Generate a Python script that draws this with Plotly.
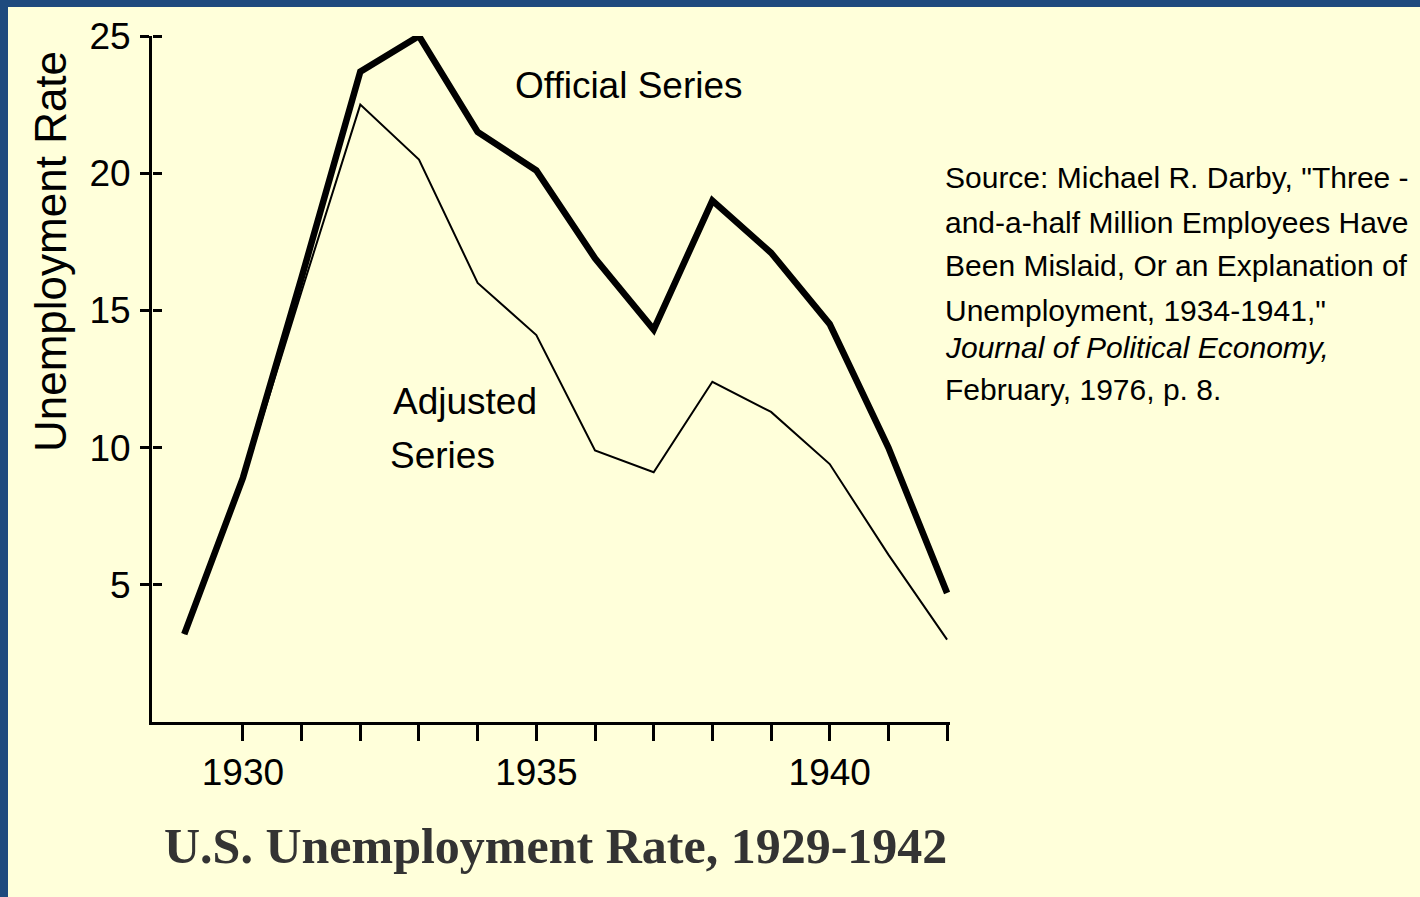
import plotly.graph_objects as go

# ---- data ----
years = [1929, 1930, 1931, 1932, 1933, 1934, 1935, 1936, 1937, 1938, 1939, 1940, 1941, 1942]
official = [3.2, 8.9, 16.2, 23.7, 25.0, 21.5, 20.1, 16.9, 14.3, 19.0, 17.1, 14.5, 10.0, 4.7]
adjusted = [3.2, 8.8, 15.7, 22.5, 20.5, 16.0, 14.1, 9.9, 9.1, 12.4, 11.3, 9.4, 6.1, 3.0]
x_tickvals = [1930, 1931, 1932, 1933, 1934, 1935, 1936, 1937, 1938, 1939, 1940, 1941, 1942]
x_ticktext = ["1930", "", "", "", "", "1935", "", "", "", "", "1940", "", ""]
y_tickvals = [5, 10, 15, 20, 25]
y_ticktext = ["5", "10", "15", "20", "25"]
source_lines = [
    "Source: Michael R. Darby, \"Three -",
    "and-a-half Million Employees Have",
    "Been Mislaid, Or an Explanation of",
    "Unemployment, 1934-1941,\"",
    "<i>Journal of Political Economy,</i>",
    "February, 1976, p. 8.",
]
title_text = "U.S. Unemployment Rate, 1929-1942"
y_title = "Unemployment Rate"

W, H = 1420, 897
SANS = "Liberation Sans, Arial, sans-serif"
BG = "#FFFFDA"
BLUE = "#1F4A7E"

def px(x):
    return x / W

def py(y):
    return 1 - y / H

fig = go.Figure()
fig.add_trace(go.Scatter(x=years, y=official, mode="lines",
                         line=dict(color="black", width=6.5), name="Official Series",
                         showlegend=False, hoverinfo="skip"))
fig.add_trace(go.Scatter(x=years, y=adjusted, mode="lines", yaxis="y2",
                         line=dict(color="black", width=2), name="Adjusted Series",
                         showlegend=False, hoverinfo="skip"))

xdom = [px(152), px(950)]
ydom = [py(722), py(36)]

fig.update_layout(
    width=W, height=H, autosize=False,
    margin=dict(l=0, r=0, t=0, b=0, pad=0),
    paper_bgcolor=BLUE,
    plot_bgcolor="rgba(0,0,0,0)",
    xaxis=dict(domain=xdom, range=[1928.45, 1942.05], showgrid=False, zeroline=False,
               automargin=False,
               showline=True, linecolor="black", linewidth=3,
               ticks="outside", ticklen=16, tickwidth=3, tickcolor="black",
               tickvals=x_tickvals, ticktext=x_ticktext,
               tickfont=dict(family=SANS, size=37, color="black"),
               ticklabelstandoff=0, fixedrange=True),
    yaxis=dict(domain=ydom, range=[0, 25], showgrid=False, zeroline=False,
               automargin=False,
               showline=True, linecolor="black", linewidth=3,
               ticks="outside", ticklen=9, tickwidth=3, tickcolor="black",
               tickvals=y_tickvals, ticktext=y_ticktext,
               tickfont=dict(family=SANS, size=37, color="black"),
               ticklabelstandoff=2, fixedrange=True),
    yaxis2=dict(domain=ydom, range=[0, 25], overlaying="y", anchor="free",
                position=px(152), side="right",
                automargin=False,
                showgrid=False, zeroline=False, showline=False,
                ticks="outside", ticklen=9, tickwidth=3, tickcolor="black",
                tickvals=y_tickvals, showticklabels=False, fixedrange=True),
)

# yellow page over the blue frame (blue remains on top and left edges)
fig.add_shape(type="rect", xref="paper", yref="paper",
              x0=px(8), x1=1.02, y0=-0.02, y1=py(7),
              fillcolor=BG, line=dict(width=0), layer="below")

annotations = []
annotations.append(dict(text="Official Series", x=px(513), y=py(86), xref="paper", yref="paper",
                        xanchor="left", yanchor="middle", showarrow=False,
                        font=dict(family=SANS, size=37, color="black")))
annotations.append(dict(text="Adjusted", x=px(391), y=py(402), xref="paper", yref="paper",
                        xanchor="left", yanchor="middle", showarrow=False,
                        font=dict(family=SANS, size=37, color="black")))
annotations.append(dict(text="Series", x=px(388), y=py(455), xref="paper", yref="paper",
                        xanchor="left", yanchor="middle", showarrow=False,
                        font=dict(family=SANS, size=37, color="black")))
src_y = [178, 222, 266, 310, 348, 390]
for line, yy in zip(source_lines, src_y):
    annotations.append(dict(text=line, x=px(943), y=py(yy), xref="paper", yref="paper",
                            xanchor="left", yanchor="middle", showarrow=False,
                            font=dict(family=SANS, size=30, color="black")))
annotations.append(dict(text=y_title, x=px(50), y=py(252), xref="paper", yref="paper",
                        xanchor="center", yanchor="middle", showarrow=False, textangle=-90,
                        font=dict(family=SANS, size=44, color="black")))
annotations.append(dict(text="<b>" + title_text + "</b>", x=px(555), y=py(846), xref="paper", yref="paper",
                        xanchor="center", yanchor="middle", showarrow=False,
                        font=dict(family="Liberation Serif, Times New Roman, serif", size=50, color="#333333")))
fig.update_layout(annotations=annotations)

fig.write_html("out.html", config={"displayModeBar": False},
               post_script="document.body.style.margin='0';document.body.style.overflow='hidden';")
